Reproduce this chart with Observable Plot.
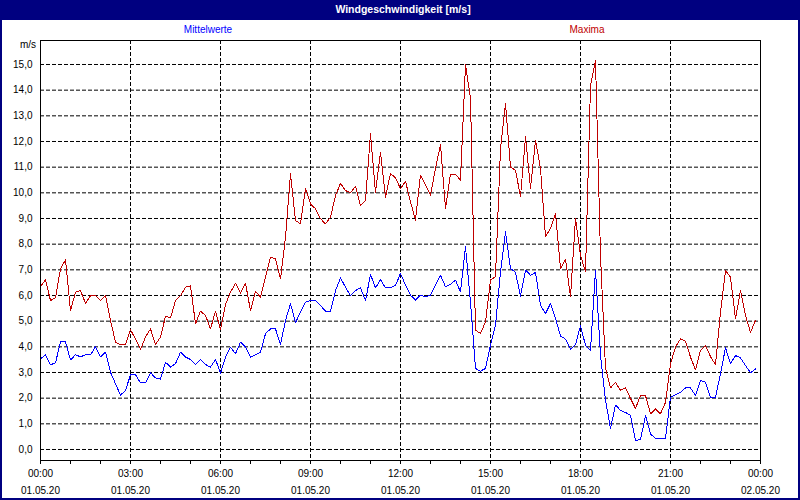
<!DOCTYPE html>
<html>
<head>
<meta charset="utf-8">
<script src="https://cdn.jsdelivr.net/npm/d3@7"></script>
<script src="https://cdn.jsdelivr.net/npm/@observablehq/plot@0.6"></script>
<style>
  body { margin: 0; background: #ffffff; }
  #wrap { position: relative; width: 800px; height: 500px; background: #ffffff; font-family: "Liberation Sans", Arial, sans-serif; overflow: hidden; }
  #titlebar { position: absolute; left: 0; top: 0; width: 800px; height: 20px; background: #000080; color: #ffffff; font-weight: bold; font-size: 10.5px; text-align: center; line-height: 18px; }
  #titlebar span { position: relative; left: 3px; }
  .lbl { position: absolute; font-size: 10px; white-space: nowrap; line-height: 12px; }
  #border { position: absolute; left: 0; top: 0; width: 800px; height: 500px; box-sizing: border-box; border: 2px solid #000080; pointer-events: none; }
  #plot { position: absolute; left: 0; top: 20px; }
</style>
</head>
<body>
<div id="wrap">
  <div id="titlebar"><span>Windgeschwindigkeit [m/s]</span></div>
  <div class="lbl" id="lgMittel" style="color:#0000ff; left:208px; top:24px; transform:translateX(-50%);"></div>
  <div class="lbl" id="lgMax" style="color:#c00000; left:587px; top:24px; transform:translateX(-50%);"></div>
  <div class="lbl" id="unit" style="color:#000; right:764px; top:39px;"></div>
  <div id="plot"></div>
  <div id="border"></div>
</div>
<script>
// ---- data ----
const title = "Windgeschwindigkeit [m/s]";
const seriesNames = ["Mittelwerte", "Maxima"];
const unitLabel = "m/s";
const intervalMinutes = 10;

const mittelwerte = [
  3.53, 3.69, 3.30, 3.38, 4.19, 4.19, 3.49, 3.69, 3.61, 3.69, 3.69, 4.00,
  3.61, 3.79, 3.01, 2.56, 2.12, 2.30, 2.91, 2.91, 2.60, 2.60, 2.99, 2.79,
  2.74, 3.40, 3.21, 3.34, 3.79, 3.60, 3.51, 3.31, 3.51, 3.31, 3.21, 3.51,
  2.97, 3.60, 3.99, 3.73, 4.18, 3.99, 3.60, 3.69, 3.79, 4.51, 4.70, 4.70,
  4.09, 5.03, 5.68, 4.94, 5.35, 5.74, 5.80, 5.80, 5.61, 5.39, 5.39, 6.19,
  6.69, 6.32, 6.00, 6.19, 6.30, 5.80, 6.82, 6.30, 6.61, 6.30, 6.30, 6.39,
  6.86, 6.40, 6.01, 5.82, 6.01, 5.95, 6.01, 6.40, 6.79, 6.34, 6.43, 6.60,
  6.14, 7.90, 5.75, 3.16, 3.05, 3.16, 4.06, 4.84, 6.92, 8.48, 7.05, 6.90,
  5.98, 6.99, 6.79, 6.90, 5.62, 5.30, 5.69, 5.10, 4.42, 4.30, 3.91, 4.09,
  4.82, 4.06, 3.87, 6.99, 3.68, 1.92, 0.82, 1.73, 1.53, 1.44, 1.34, 0.36,
  0.38, 1.32, 0.61, 0.42, 0.42, 0.42, 2.04, 2.14, 2.23, 2.40, 2.40, 2.10,
  2.69, 2.62, 2.04, 2.04, 2.95, 3.96, 3.34, 3.66, 3.57, 3.27, 2.99, 3.14
];

const maxima = [
  6.35, 6.61, 5.80, 5.91, 7.04, 7.39, 5.41, 6.13, 6.19, 5.70, 5.99, 5.99,
  5.80, 5.99, 5.03, 4.18, 4.09, 4.09, 4.66, 4.31, 3.90, 4.38, 4.70, 4.09,
  4.38, 5.19, 5.13, 5.80, 6.00, 6.32, 6.38, 4.90, 5.39, 5.22, 4.70, 5.39,
  4.67, 5.65, 6.13, 6.48, 6.09, 6.48, 5.41, 6.17, 5.93, 6.71, 7.49, 7.43,
  6.65, 8.27, 10.74, 8.92, 8.79, 10.16, 9.57, 9.38, 8.99, 8.79, 9.05, 9.89,
  10.37, 10.09, 10.00, 10.26, 9.51, 9.70, 12.30, 10.02, 11.58, 9.83, 10.76, 10.58,
  10.16, 10.45, 9.65, 8.94, 10.69, 10.30, 9.91, 10.95, 11.88, 9.39, 10.73, 10.73,
  10.49, 15.00, 13.68, 4.65, 4.52, 4.97, 6.60, 6.73, 11.73, 13.48, 11.01, 10.88,
  9.85, 12.18, 10.17, 12.05, 10.95, 8.29, 8.61, 9.19, 7.05, 7.42, 5.95, 9.00,
  7.57, 6.92, 14.19, 15.17, 7.57, 3.16, 2.40, 2.61, 2.31, 2.40, 1.99, 1.60,
  2.11, 2.10, 1.39, 1.58, 1.39, 1.84, 3.34, 3.99, 4.31, 4.22, 3.60, 3.10,
  3.86, 4.05, 3.62, 3.30, 5.35, 6.97, 6.71, 5.09, 6.19, 5.22, 4.57, 5.03
];

const yTicks = [0, 1, 2, 3, 4, 5, 6, 7, 8, 9, 10, 11, 12, 13, 14, 15];
const hourTicks = d3.range(0, 25, 1);
const labelHours = [0, 3, 6, 9, 12, 15, 18, 21, 24];
const timeLabels = ["00:00", "03:00", "06:00", "09:00", "12:00", "15:00", "18:00", "21:00", "00:00"];
const dateLabels = ["01.05.20", "01.05.20", "01.05.20", "01.05.20", "01.05.20", "01.05.20", "01.05.20", "01.05.20", "02.05.20"];
const gridHours = [3, 6, 9, 12, 15, 18, 21];

// ---- build table ----
const data = mittelwerte.map((m, i) => ({ h: i * intervalMinutes / 60, mittel: m, max: maxima[i] }));

document.getElementById("lgMittel").textContent = seriesNames[0];
document.getElementById("lgMax").textContent = seriesNames[1];
document.getElementById("unit").textContent = unitLabel;

const dash = "4,2";
const chart = Plot.plot({
  width: 800,
  height: 480,
  marginLeft: 40,
  marginRight: 40,
  marginTop: 20,
  marginBottom: 40,
  x: { domain: [0, 24] },
  y: { domain: [-0.4286, 15.935] },
  style: { fontFamily: "'Liberation Sans', Arial, sans-serif", fontSize: "10px", color: "#000", background: "transparent", overflow: "visible" },
  marks: [
    Plot.ruleY(yTicks, { stroke: "#000", strokeDasharray: dash, strokeWidth: 1 }),
    Plot.ruleX(gridHours, { stroke: "#000", strokeDasharray: dash, strokeWidth: 1 }),
    Plot.line(data, { x: "h", y: "mittel", stroke: "#0000ff", strokeWidth: 1, shapeRendering: "crispEdges" }),
    Plot.line(data, { x: "h", y: "max", stroke: "#c00000", strokeWidth: 1, shapeRendering: "crispEdges" }),
    Plot.frame({ stroke: "#000", strokeWidth: 1 }),
    Plot.axisX(hourTicks, { tickSize: 4, tickFormat: () => "", label: null }),
    Plot.axisX(labelHours, { tickSize: 0, tickPadding: 9, tickFormat: d => timeLabels[labelHours.indexOf(d)], label: null }),
    Plot.axisX(labelHours, { tickSize: 0, tickPadding: 26, tickFormat: d => dateLabels[labelHours.indexOf(d)], label: null }),
    Plot.axisY(yTicks, { tickSize: 0, tickPadding: 8, tickFormat: d => d.toFixed(1).replace(".", ","), label: null })
  ]
});
document.getElementById("plot").appendChild(chart);
</script>
</body>
</html>
